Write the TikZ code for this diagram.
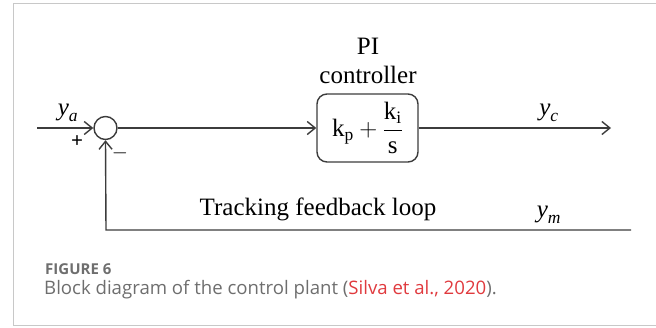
\documentclass[tikz,border=0pt]{standalone}
\usepackage{amsmath}
\usepackage{xcolor}
\usepackage{fontspec}
\setmainfont{Liberation Serif}
\newfontfamily\capfont{Open Sans}
\usetikzlibrary{arrows.meta,positioning}

\definecolor{linegray}{HTML}{3C3C3C}
\definecolor{framegray}{HTML}{C8C8C8}
\definecolor{capgray}{HTML}{6E6E6E}
\definecolor{citered}{HTML}{E03A3E}

\newcommand{\sig}[2]{$\textit{#1}_{\textit{#2}}$}

\begin{document}
\begin{tikzpicture}[x=1pt, y=-1pt,
  every node/.style={font=\fontsize{25}{29}\selectfont, text=black},
  wire/.style={draw=linegray, line width=1.4pt},
  flow/.style={wire, -{Straight Barb[length=8pt, width=13pt, line width=1.4pt]}},
  sumjoint/.style={circle, draw=linegray, line width=1.4pt, minimum size=23pt, inner sep=0pt},
  ctrlbox/.style={draw=linegray, line width=1.4pt, rounded corners=10pt, minimum width=101pt, minimum height=68pt, inner sep=0pt},
  sign/.style={font=\fontsize{21}{24}\selectfont}]
\useasboundingbox (0,0) rectangle (656,327);
\draw[framegray, line width=1pt] (656,3.5) -- (13.5,3.5) -- (13.5,325.5) -- (656,325.5);

% blocks
\node[sumjoint] (sum) at (105.5,128) {};
\node[ctrlbox] (ctrl) at (367.5,128) {$\text{k}_{\text{p}}+\dfrac{\text{k}_{\text{i}}}{\text{s}}$};
\node (pi) at (368,46) {PI};
\node (ctrltxt) at (368,75) {controller};

% signals
\coordinate (in) at (37,128);
\coordinate (out) at (611,128);
\coordinate (fbr) at (631,230);
\coordinate (fbl) at (106,230);
\draw[flow] (in) -- (sum.west);
\draw[flow] (sum.east) -- (ctrl.west);
\draw[flow] (ctrl.east) -- (out);
\draw[flow] (fbr) -- (fbl) -- (sum.south);

% labels
\node (ya) at (68,113) {\sig{y}{a}};
\node[sign] (plus) at (77,142) {\textbf{+}};
\node[sign] (minus) at (120,153) {$-$};
\node (yc) at (549,113) {\sig{y}{c}};
\node (ym) at (549,215) {\sig{y}{m}};
\node (loop) at (318,209) {Tracking feedback loop};

% caption
\node[anchor=west, inner sep=0pt, font=\capfont\bfseries\fontsize{15}{17}\selectfont, text=capgray] (fig) at (45,269.5) {FIGURE 6};
\node[anchor=west, inner sep=0pt, font=\capfont\fontsize{18.6}{21}\selectfont, text=capgray] (cap) at (44,289.5) {Block diagram of the control plant (\textcolor{citered}{Silva et al., 2020}).};
\end{tikzpicture}
\end{document}
